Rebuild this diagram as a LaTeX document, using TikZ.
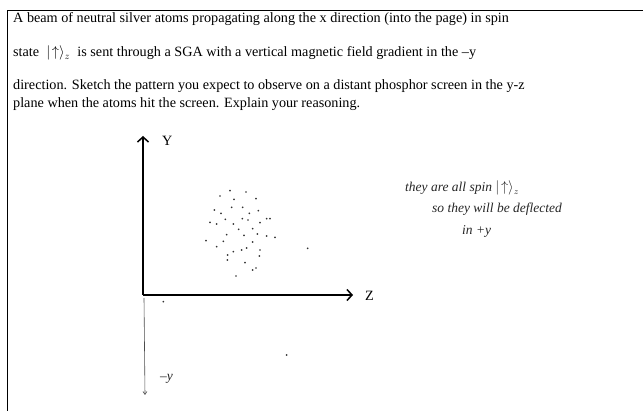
\documentclass[tikz,border=0pt]{standalone}
\usepackage{amsmath}
\usepackage{fontspec}
\setmainfont{Liberation Serif}
\usetikzlibrary{arrows.meta}

\tikzset{
  qtext/.style={inner sep=0pt, anchor=base west, font=\fontsize{14.2}{16}\selectfont},
  hand/.style={inner sep=0pt, anchor=base west, text=black!85, font=\fontsize{13.5}{15}\selectfont\itshape},
  axis/.style={line width=1.8pt, -{Straight Barb[length=5pt,width=11pt,line width=1.5pt]}},
  atom/.style={circle, fill=black!80, inner sep=0pt, minimum size=1.9pt}
}

\begin{document}
\begin{tikzpicture}[x=1pt,y=-1pt]
\useasboundingbox (0,0) rectangle (643,411);
% frame of the question, open at right and bottom
\draw[line width=1pt] (7,411) -- (7,11) -- (643,11);

% question text
\node[qtext] (l1) at (13,23) {A beam of neutral silver atoms propagating along the x direction (into the page) in spin};
\node[qtext] (l2) at (13,57) {state \ $|\!\uparrow\rangle_{z}$ \ is sent through a SGA with a vertical magnetic field gradient in the --y};
\node[qtext] (l3) at (13,90) {direction. Sketch the pattern you expect to observe on a distant phosphor screen in the y-z};
\node[qtext] (l4) at (13,108) {plane when the atoms hit the screen. Explain your reasoning.};

% axes
\coordinate (o) at (143,295);
\coordinate (ytip) at (143,136);
\coordinate (ztip) at (353,295);
\draw[axis] (o) -- (ytip);
\draw[axis] (o) -- (ztip);
\node[qtext] (ylab) at (162,146) {Y};
\node[qtext] (zlab) at (365,301) {Z};

% hand drawn -y axis
\coordinate (mtop) at (144,298);
\coordinate (mtip) at (145,395);
\draw[black!70, line width=0.6pt, -{Straight Barb[length=3pt,width=4pt]}] (mtop) -- (mtip);
\node[hand] (mylab) at (160,381) {--y};

% atoms on the screen
\foreach \px/\py in {330/212,378/216,300/228,408/236,342/238,335/262,368/262,283/270,
  303/280,388/280,415/272,270/307,290/312,316/298,367/296,384/300,420/308,450/296,
  440/296,340/312,356/328,398/326,320/344,372/346,412/342,440/348,465/352,258/362,
  310/364,398/366,290/380,380/384,340/395,365/390,420/390,323/405,418/408,322/420,
  375/428,408/444,398/450,348/468,563/385,130/545,500/705}
  \node[atom] at ({\px/3+120},{\py/3+120}) {};

% handwritten answer
\node[hand] (a1) at (405,192) {they are all spin $|\!\uparrow\rangle_z$};
\node[hand] (a2) at (432,213) {so they will be deflected};
\node[hand] (a3) at (462,235) {in +y};
\end{tikzpicture}
\end{document}
